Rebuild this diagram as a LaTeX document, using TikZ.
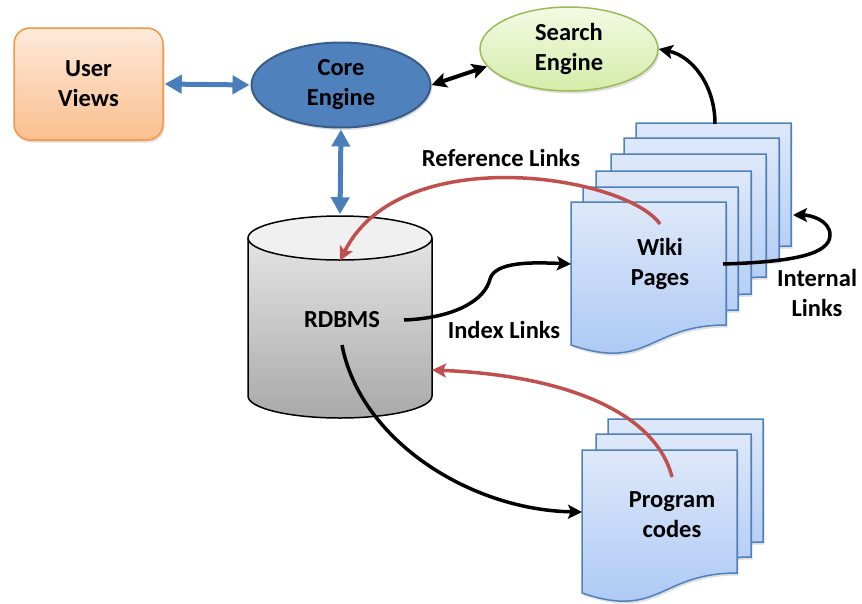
\documentclass[tikz,border=0pt]{standalone}
\usepackage{fontspec}
\setmainfont{Carlito}
\usetikzlibrary{arrows.meta,shadows,shapes.geometric}
\definecolor{uvborder}{HTML}{F79646}
\definecolor{uvtop}{HTML}{FDEADA}
\definecolor{uvbot}{HTML}{FABF8F}
\definecolor{corefill}{HTML}{4F81BD}
\definecolor{coreborder}{HTML}{385D8A}
\definecolor{setop}{HTML}{F3FAE3}
\definecolor{sebot}{HTML}{D5ECA9}
\definecolor{seborder}{HTML}{9BBB59}
\definecolor{pgtop}{HTML}{DEE8F9}
\definecolor{pgbot}{HTML}{A8C6F4}
\definecolor{pgborder}{HTML}{4F81BD}
\definecolor{blarrow}{HTML}{4A7EBB}
\definecolor{redarrow}{HTML}{C0504D}
\definecolor{dbtopc}{HTML}{F0F0F0}
\definecolor{dbbodytop}{HTML}{E4E4E4}
\definecolor{dbbot}{HTML}{A9A9A9}
\begin{document}
\begin{tikzpicture}[x=1pt,y=1pt,
  every node/.style={font=\fontsize{24.5}{30}\selectfont\bfseries, align=center},
  shadowed/.style={drop shadow={opacity=0.25, shadow xshift=1.5pt, shadow yshift=-2.5pt}},
  uv/.style={draw=uvborder, line width=1.5pt, rounded corners=16pt, top color=uvtop, bottom color=uvbot, minimum width=149pt, minimum height=112pt, shadowed},
  core/.style={ellipse, draw=coreborder, line width=2pt, fill=corefill, minimum width=179pt, minimum height=85pt, inner sep=0pt, shadowed},
  search/.style={ellipse, draw=seborder, line width=1.5pt, top color=setop, bottom color=sebot, minimum width=178pt, minimum height=84pt, inner sep=0pt, shadowed},
  dbtopstyle/.style={ellipse, draw=black, line width=1.5pt, fill=dbtopc, minimum width=184pt, minimum height=44pt, inner sep=0pt},
  pagestyle/.style={draw=pgborder, line width=1.5pt, top color=pgtop, bottom color=pgbot, shadowed},
  bluearr/.style={draw=blarrow, line width=5pt, {Triangle[width=18pt,length=17pt]}-{Triangle[width=18pt,length=17pt]}, shorten <=1pt, shorten >=1pt},
  blackarr/.style={draw=black, line width=3.5pt, -{Stealth[length=14pt,width=14pt,inset=3pt]}},
  blackdbl/.style={draw=black, line width=4pt, {Stealth[length=15pt,width=15pt,inset=3pt]}-{Stealth[length=15pt,width=15pt,inset=3pt]}},
  redarr/.style={draw=redarrow, line width=3.5pt, -{Stealth[length=14pt,width=14pt,inset=3pt]}},
  docpage/.pic={\path[pagestyle] (0,0) -- (155,0) -- (155,-123) .. controls (77.5,-123) and (77.5,-169.5) .. (0,-143) -- cycle;}
]
\useasboundingbox (0,-603) rectangle (862,0);

% nodes
\node[uv] (user) at (88.5,-84) {User\\Views};
\node[core] (core) at (341,-85) {Core\\Engine};
\node[search] (search) at (569,-49) {Search\\Engine};

% cylinder
\shade[top color=dbbodytop, bottom color=dbbot] (248,-238) -- (248,-396) arc[start angle=180, end angle=360, x radius=92, y radius=22] -- (432,-238) -- cycle;
\draw[line width=1.5pt] (248,-238) -- (248,-396) arc[start angle=180, end angle=360, x radius=92, y radius=22] -- (432,-238);
\node[dbtopstyle] (dbtop) at (340,-238) {};
\node (rdbms) at (342,-320) {RDBMS};

% wiki pages stack
\pic at (636,-123) {docpage};
\pic at (624,-138) {docpage};
\pic at (611,-154) {docpage};
\pic at (596,-171) {docpage};
\pic at (583,-187) {docpage};
\pic at (571,-202) {docpage};
\node (wiki) at (660,-264) {Wiki\\Pages};

% program pages stack
\pic at (608,-419) {docpage};
\pic at (596,-434) {docpage};
\pic at (582,-450) {docpage};
\node (prog) at (672,-515) {Program\\codes};

% labels
\node (reflbl) at (501,-158) {Reference Links};
\node (idxlbl) at (504,-330) {Index Links};
\node (intlbl) at (817,-293) {Internal\\Links};

% connector end points
\coordinate (wtop) at (715,-124);
\coordinate (wref) at (660,-224);
\coordinate (wleft) at (571,-264);
\coordinate (wright) at (723,-264);
\coordinate (wback) at (793,-215);
\coordinate (rdright) at (404,-320);
\coordinate (rdbot) at (342,-345);
\coordinate (dbright) at (432,-370);
\coordinate (pleft) at (582,-512);
\coordinate (pref) at (672,-477);

% connectors
\draw[bluearr] (user.east) -- (core.west);
\draw[bluearr] (core.south) -- (dbtop.north);
\draw[blackdbl] (core.east) -- (search.192);
\draw[blackarr] (wtop) .. controls (715,-85) and (692,-56) .. (search.east);
\draw[redarr] (wref) .. controls (625,-175) and (400,-140) .. (dbtop.south);
\draw[blackarr] (rdright) .. controls (455,-318) and (485,-300) .. (490,-279) .. controls (495,-262) and (530,-262) .. (wleft);
\draw[blackarr] (wright) .. controls (790,-262) and (830,-255) .. (830,-235) .. controls (830,-220) and (810,-215) .. (wback);
\draw[blackarr] (rdbot) .. controls (360,-440) and (470,-510) .. (pleft);
\draw[redarr] (pref) .. controls (655,-410) and (560,-375) .. (dbright);
\end{tikzpicture}
\end{document}
